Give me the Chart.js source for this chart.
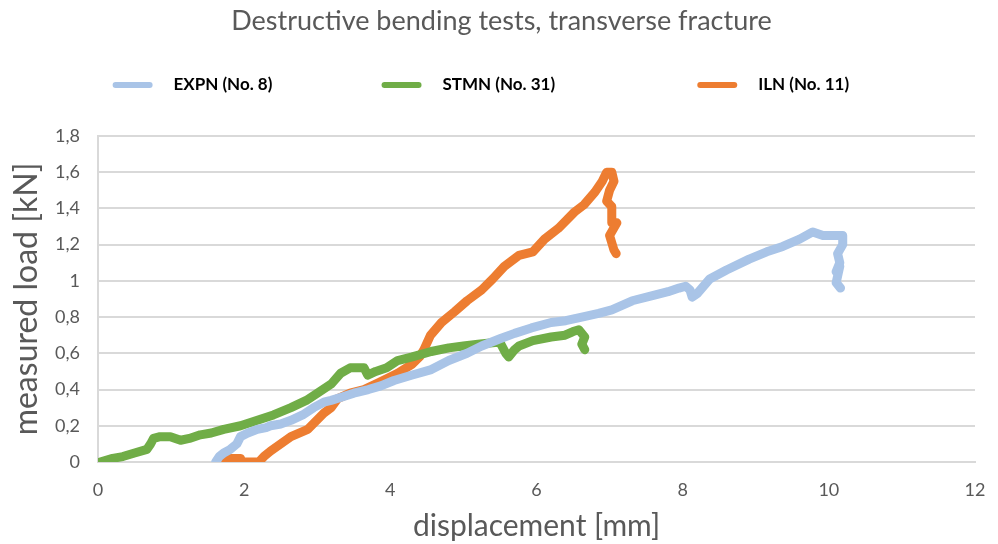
<!DOCTYPE html>
<html>
<head>
<meta charset="utf-8">
<title>Destructive bending tests</title>
<script src="https://cdn.jsdelivr.net/npm/chart.js@4.4.1/dist/chart.umd.min.js"></script>
<style>
    html, body { margin: 0; padding: 0; background: #ffffff; }
    #wrap { width: 998px; height: 544px; }
</style>
</head>
<body>
<div id="wrap"><canvas id="chart" width="998" height="544"></canvas></div>
<script>

// EXPN (No. 8)
var expnX = [1.61, 1.66, 1.72, 1.81, 1.9, 1.95, 2.05, 2.18, 2.3, 2.36, 2.5, 2.64, 2.8, 2.95, 3.09, 3.19, 3.35, 3.5, 3.7, 3.87,
    4.05, 4.3, 4.56, 4.8, 5.05, 5.25, 5.5, 5.7, 5.93, 6.2, 6.4, 6.62, 6.85, 7.03, 7.31, 7.6, 7.8, 7.95, 8.04, 8.1,
    8.13, 8.2, 8.37, 8.6, 8.91, 9.15, 9.37, 9.6, 9.78, 9.85, 9.92, 10.05, 10.19, 10.19, 10.12, 10.15, 10.1, 10.15, 10.1, 10.16];
var expnY = [0, 0.03, 0.05, 0.07, 0.1, 0.14, 0.16, 0.18, 0.19, 0.2, 0.21, 0.23, 0.26, 0.3, 0.33, 0.34, 0.36, 0.38, 0.4, 0.42,
    0.45, 0.48, 0.51, 0.56, 0.6, 0.64, 0.68, 0.71, 0.74, 0.77, 0.78, 0.8, 0.82, 0.84, 0.89, 0.92, 0.94, 0.96, 0.97, 0.95,
    0.91, 0.93, 1.01, 1.06, 1.12, 1.16, 1.19, 1.23, 1.27, 1.26, 1.25, 1.25, 1.25, 1.2, 1.15, 1.1, 1.05, 1.08, 0.99, 0.96];

// STMN (No. 31)
var stmnX = [0.03, 0.2, 0.34, 0.5, 0.67, 0.72, 0.76, 0.85, 0.99, 1.13, 1.25, 1.4, 1.55, 1.72, 1.95, 2.18, 2.4, 2.64, 2.85, 3.0,
    3.19, 3.32, 3.45, 3.5, 3.64, 3.69, 3.8, 3.95, 4.1, 4.3, 4.56, 4.8, 5.0, 5.2, 5.43, 5.5, 5.58, 5.62, 5.7, 5.76,
    5.95, 6.2, 6.39, 6.5, 6.58, 6.66, 6.62, 6.66];
var stmnY = [0, 0.02, 0.03, 0.05, 0.07, 0.1, 0.13, 0.14, 0.14, 0.12, 0.13, 0.15, 0.16, 0.18, 0.2, 0.23, 0.26, 0.3, 0.34, 0.38,
    0.43, 0.49, 0.52, 0.52, 0.52, 0.48, 0.5, 0.52, 0.56, 0.58, 0.61, 0.63, 0.64, 0.65, 0.66, 0.66, 0.6, 0.58, 0.62, 0.64,
    0.67, 0.69, 0.7, 0.72, 0.73, 0.69, 0.65, 0.62];

// ILN (No. 11)
var ilnX = [1.72, 1.8, 1.95, 1.97, 2.05, 2.2, 2.27, 2.36, 2.5, 2.64, 2.87, 3.09, 3.19, 3.28, 3.45, 3.64, 3.85, 4.1, 4.3, 4.4,
    4.46, 4.55, 4.7, 4.88, 5.05, 5.25, 5.4, 5.56, 5.76, 5.95, 6.11, 6.3, 6.52, 6.65, 6.8, 6.9, 6.96, 7.03, 7.06, 7.0,
    6.96, 7.03, 7.03, 7.1, 7.0, 7.06, 7.09];
var ilnY = [0.02, 0.02, 0.02, 0, 0, 0, 0.03, 0.06, 0.1, 0.14, 0.18, 0.27, 0.3, 0.35, 0.38, 0.4, 0.44, 0.49, 0.54, 0.58,
    0.62, 0.7, 0.77, 0.83, 0.89, 0.95, 1.01, 1.08, 1.14, 1.16, 1.23, 1.29, 1.38, 1.42, 1.49, 1.55, 1.6, 1.6, 1.55, 1.5,
    1.44, 1.41, 1.32, 1.32, 1.25, 1.17, 1.15];

var seriesNames = ['EXPN (No. 8)', 'STMN (No. 31)', 'ILN (No. 11)'];
var seriesColors = ['#a9c4e7', '#70ad47', '#ed7d31'];

var gray = '#595959';
var font = 'Lato, "Open Sans", sans-serif';
var legendFont = {family: font, size: 17, weight: 'bold'};
// room each legend entry takes (marker + text + gap), px
var legendSlots = [269, 317, 207];

var toPoints = function(xs, ys) {
    var pts = [];
    for (var i = 0; i < xs.length; i++) {
        pts.push({x: xs[i], y: ys[i]});
    }
    return pts;
};

var makeSet = function(idx, xs, ys) {
    return {
        label: seriesNames[idx],
        data: toPoints(xs, ys),
        borderColor: seriesColors[idx],
        backgroundColor: seriesColors[idx],
        borderWidth: 9,
        pointRadius: 0,
        tension: 0,
        borderJoinStyle: 'round',
        borderCapStyle: 'round'
    };
};

var measureCtx = document.createElement('canvas').getContext('2d');

// pads a legend text with spaces so the next marker lands where the excel legend had it
var spacedLabel = function(text, i) {
    measureCtx.font = 'bold ' + legendFont.size + 'px ' + font;
    var s = '   ' + text;
    if (i >= legendSlots.length) return s;
    var want = legendSlots[i] - 40 - legendFont.size / 2 - 10;
    while (measureCtx.measureText(s + ' ').width <= want) {
        s += ' ';
    }
    return s;
};

// extra room under the legend, excel keeps a wide gap there
var legendGap = {
    id: 'legendGap',
    beforeLayout: function(chart) {
        var lg = chart.legend;
        if (!lg || lg._gapPatched) return;
        var fit = lg.fit;
        lg.fit = function() {
            fit.apply(this, arguments);
            this.height += 32.5;
        };
        lg._gapPatched = true;
    }
};

var initChart = function() {
    var ctx = document.getElementById('chart').getContext('2d');
    new Chart(ctx, {
        type: 'line',
        data: {
            datasets: [
                makeSet(0, expnX, expnY),
                makeSet(1, stmnX, stmnY),
                makeSet(2, ilnX, ilnY)
            ]
        },
        plugins: [legendGap],
        options: {
            responsive: false,
            animation: false,
            devicePixelRatio: 1,
            layout: {padding: {left: 28, right: 23, top: 0, bottom: 0}},
            plugins: {
                title: {
                    display: true,
                    text: 'Destructive bending tests, transverse fracture',
                    color: gray,
                    font: {family: font, size: 27, weight: 'normal'},
                    padding: {top: 5, bottom: 29}
                },
                legend: {
                    display: true,
                    labels: {
                        color: '#000000',
                        font: legendFont,
                        boxWidth: 40,
                        boxHeight: 6,
                        padding: 10,
                        useBorderRadius: true,
                        borderRadius: 3,
                        generateLabels: function(chart) {
                            var items = Chart.defaults.plugins.legend.labels.generateLabels(chart);
                            items.forEach(function(it, i) {
                                it.lineWidth = 0;
                                it.text = spacedLabel(it.text, i);
                            });
                            return items;
                        }
                    }
                },
                tooltip: {enabled: false}
            },
            scales: {
                x: {
                    type: 'linear',
                    min: 0,
                    max: 12,
                    ticks: {stepSize: 2, color: gray, font: {family: font, size: 18}, padding: 17},
                    grid: {display: false, drawTicks: false},
                    border: {display: true, color: '#d9d9d9', width: 2},
                    title: {
                        display: true,
                        text: 'displacement [mm]',
                        color: gray,
                        font: {family: font, size: 30},
                        padding: {top: 0, bottom: 0}
                    },
                    afterFit: function(scale) {
                        scale.height = 82;
                        // tick padding is vertical here, don't let it eat the right side
                        scale.paddingLeft = 0;
                        scale.paddingRight = 8;
                    }
                },
                y: {
                    min: 0,
                    max: 1.8,
                    ticks: {
                        stepSize: 0.2,
                        color: gray,
                        font: {family: font, size: 18},
                        padding: 18,
                        callback: function(v) {
                            return String(Math.round(v * 10) / 10).replace('.', ',');
                        }
                    },
                    grid: {color: '#d9d9d9', lineWidth: 2, drawTicks: false},
                    border: {display: true, color: '#d9d9d9', width: 2},
                    title: {
                        display: true,
                        text: 'measured load [kN]',
                        color: gray,
                        font: {family: font, size: 32},
                        padding: {top: -21, bottom: 0}
                    },
                    afterFit: function(scale) { scale.width = 70; }
                }
            }
        }
    });
};

window.onload = initChart;
</script>
</body>
</html>
